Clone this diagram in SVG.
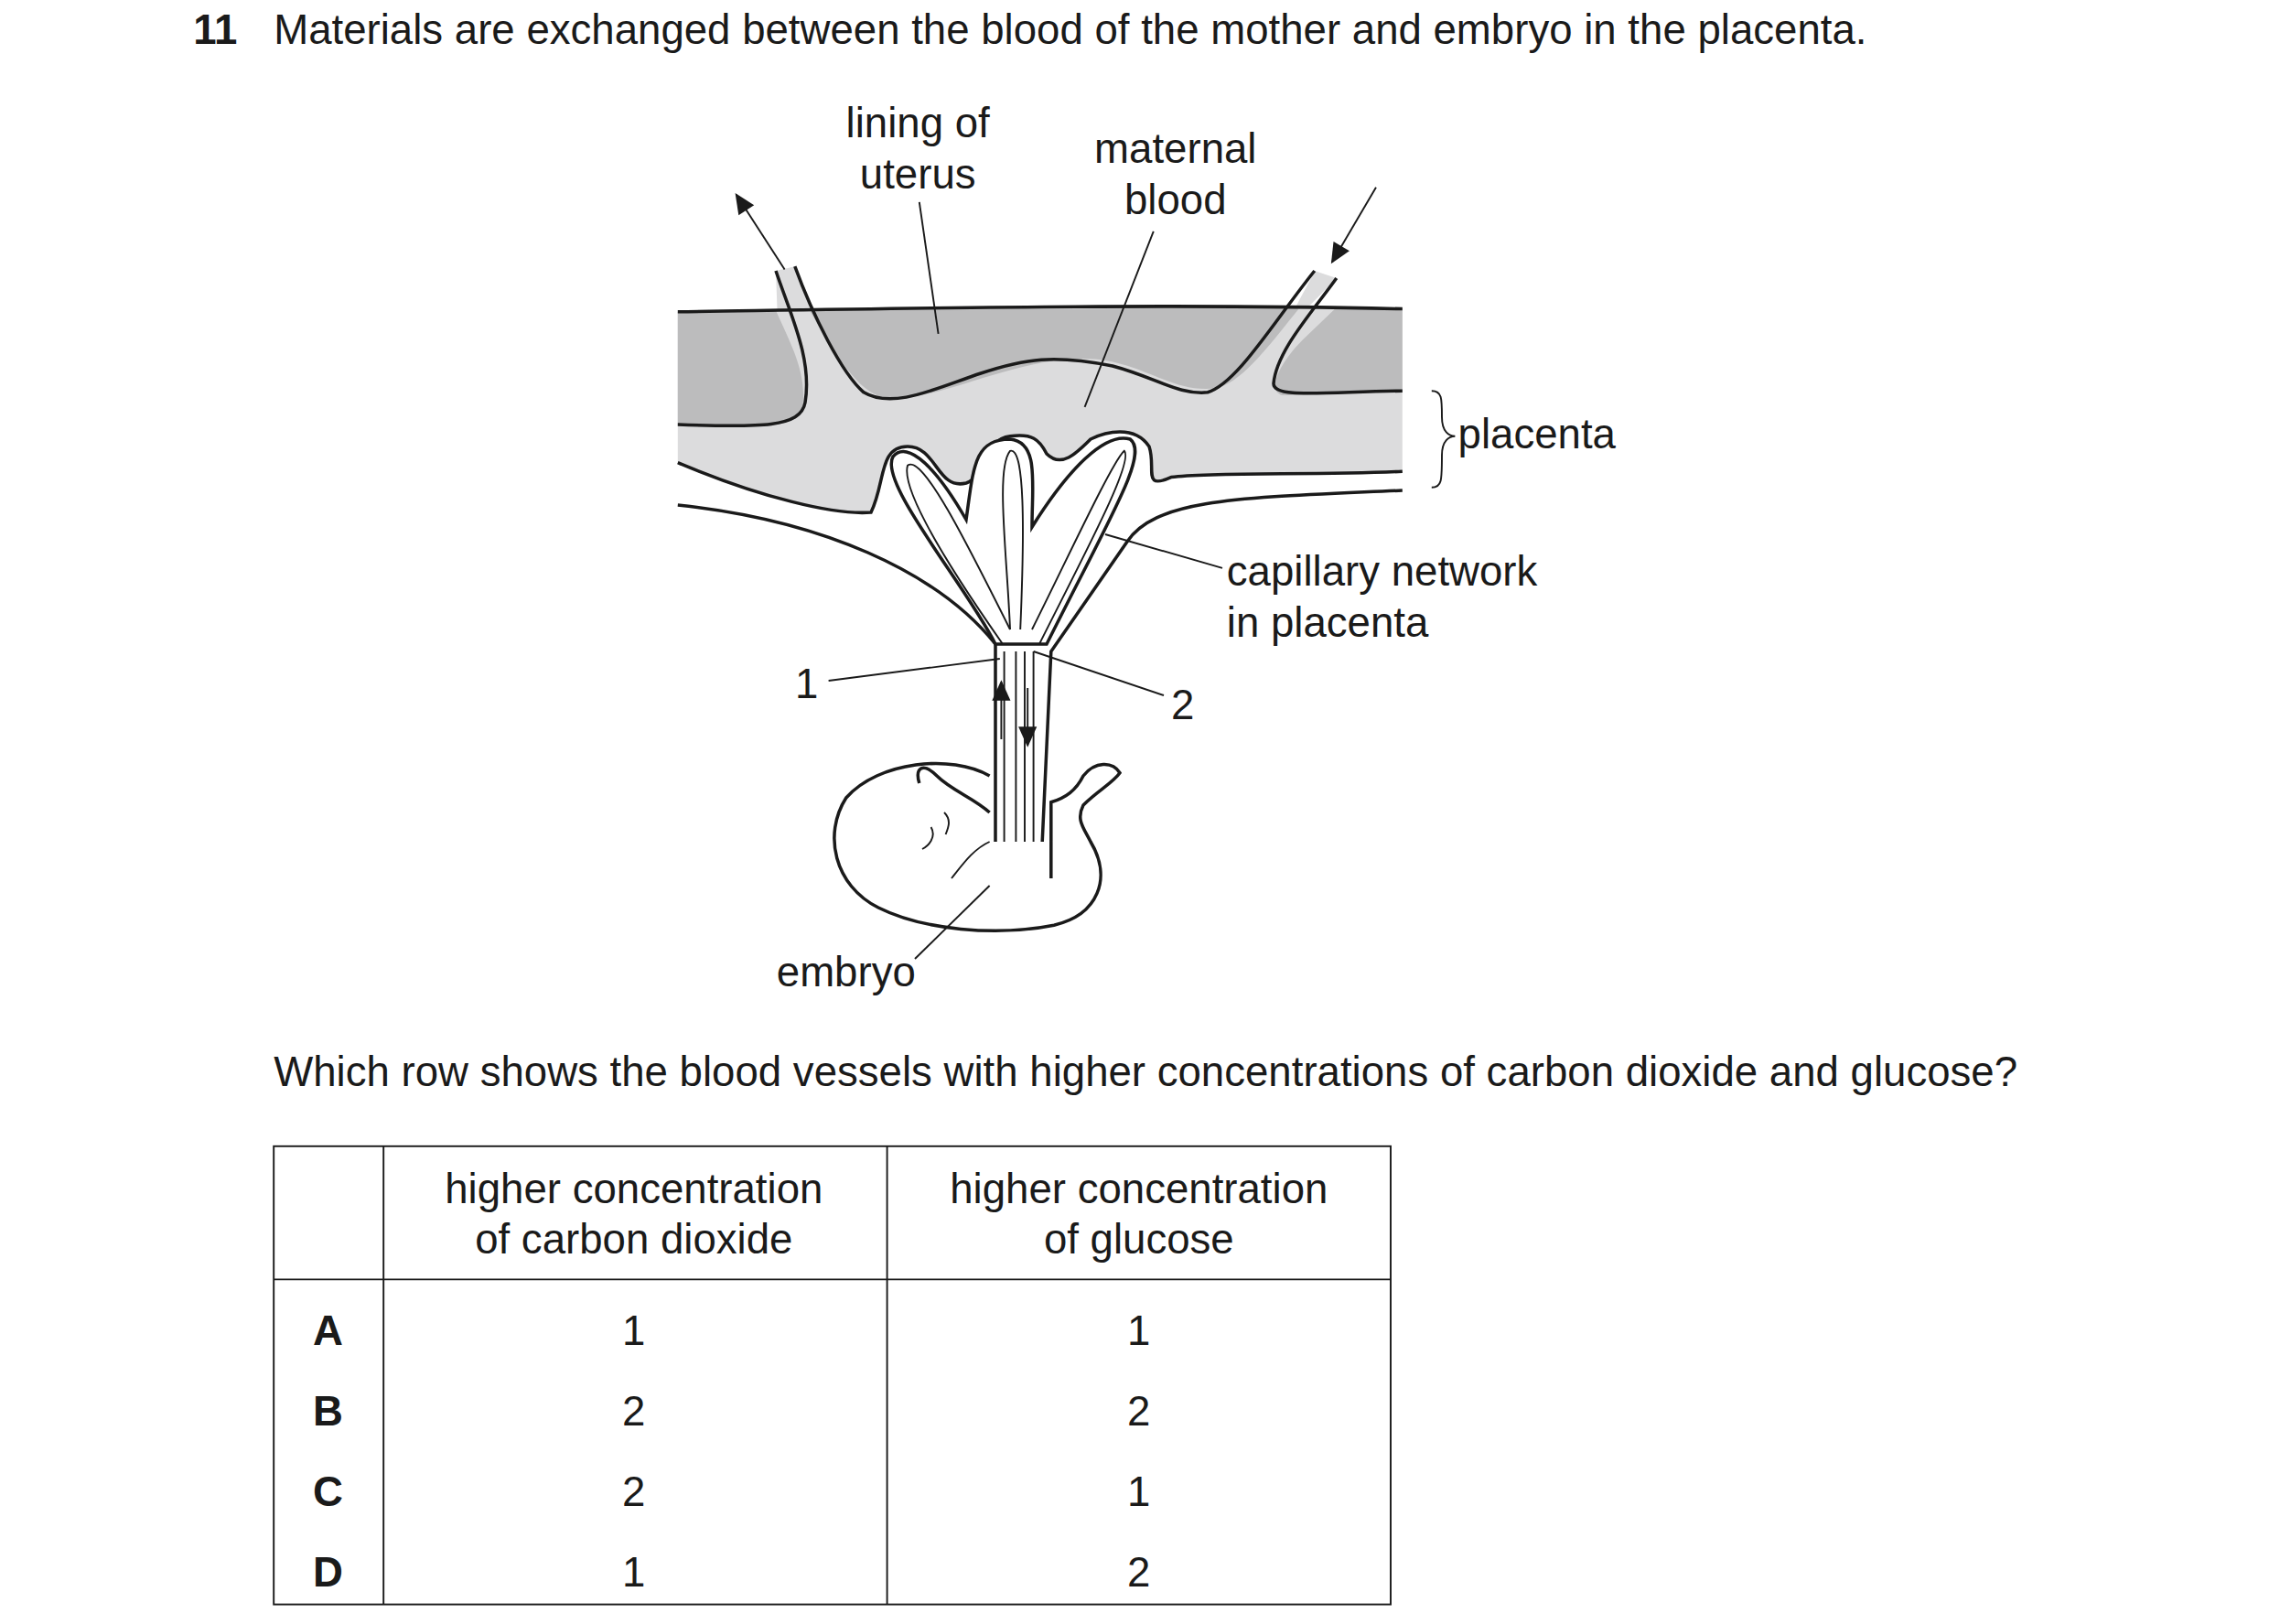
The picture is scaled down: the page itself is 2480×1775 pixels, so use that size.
<svg xmlns="http://www.w3.org/2000/svg" width="2480" height="1775" viewBox="0 0 2480 1775">
<style>
text{font-family:"Liberation Sans",Arial,sans-serif;font-size:28.5px;fill:#1a1a1a}
.b{font-weight:bold}
.m{text-anchor:middle}
.l{fill:none;stroke:#1a1a1a;stroke-width:2.2}
.t{fill:none;stroke:#1a1a1a;stroke-width:1.2}
</style>
<defs><marker id="ah" viewBox="0 0 10 10" refX="9" refY="5" markerUnits="userSpaceOnUse" markerWidth="22" markerHeight="14" orient="auto"><path d="M0,0.5 L10,5 L0,9.5 z" fill="#1a1a1a"/></marker></defs>
<rect width="2480" height="1775" fill="#fff"/>
<g transform="scale(1.6)">
<g id="title"><text x="132" y="30" class="b">11</text><text x="187" y="30">Materials are exchanged between the blood of the mother and embryo in the placenta.</text></g>
<g id="placenta-diagram">
<path d="M463,213 C600,211 800,207 958,211 L958,323 C900,325 820,322 800,326 C780,335 790,320 785,305 C775,290 755,295 745,300 C735,310 725,320 715,310 C710,300 705,296 690,298 C672,300 675,325 660,330 C640,335 640,305 620,305 C600,305 605,330 595,350 C570,352 520,340 463,316 Z" fill="#dcdcdd"/>
<path d="M463,213 L530,212 C540,235 552,255 548,280 C545,292 520,292 463,290 Z" fill="#bcbcbd"/>
<path d="M553,212 L888,210 C870,232 850,260 832,265 C800,270 780,245 740,245 C690,245 640,275 605,272 C585,268 570,240 553,212 Z" fill="#bcbcbd"/>
<path d="M912,211 L958,211 L958,267 C920,268 890,270 876,270 C866,268 872,250 890,232 Z" fill="#bcbcbd"/>
<path d="M530,185 L543,182 C546,192 550,202 555,213 L531,213 Z" fill="#dcdcdd"/>
<path d="M898,185 L913,190 C905,198 898,206 890,213 L885,210 C889,202 894,194 898,185 Z" fill="#dcdcdd"/>
<path class="l" d="M463,213 C600,211 800,207 958,211"/>
<path class="l" d="M530,185 C540,215 555,245 550,275 C547,292 520,292 463,290"/>
<path class="l" d="M543,182 C555,215 575,255 590,268 C610,280 640,265 670,255 C700,245 720,242 760,250 C790,258 805,270 825,268 C845,262 870,220 898,185"/>
<path class="l" d="M913,190 C895,215 872,240 870,262 C870,272 900,268 958,267"/>
<path class="l" d="M463,316 C520,340 570,352 595,350 C605,330 600,305 620,305 C640,305 640,335 660,330 C675,325 672,300 690,298 C705,296 710,300 715,310 C725,320 735,310 745,300 C755,295 775,290 785,305 C790,320 780,335 800,326 C830,322 900,325 958,322"/>
<path class="l" d="M463,345 C560,355 640,390 680,440 L680,575"/>
<path class="l" d="M958,335 C850,340 790,340 770,370 L718,445 L712,575"/>
<path d="M680,440 C660,400 600,330 610,312 C620,300 640,320 660,355 C665,320 665,300 690,300 C710,302 705,330 705,360 C730,320 755,295 772,300 C785,310 760,350 715,440 Z" fill="#fff" stroke="#1a1a1a" stroke-width="2.2"/>
<path class="t" d="M685,440 C650,390 615,335 620,318 C630,310 660,370 690,430"/>
<path class="t" d="M690,430 C688,380 680,320 690,308 C700,305 700,360 697,430"/>
<path class="t" d="M705,430 C730,380 760,315 768,308 C775,315 740,380 710,440"/>
<path class="t" d="M686,445 L686,575 M694,445 L694,575 M700,445 L700,575 M706,445 L706,575"/>
<line class="t" x1="684" y1="505" x2="684" y2="466" marker-end="url(#ah)"/>
<line class="t" x1="702" y1="470" x2="702" y2="509" marker-end="url(#ah)"/>
<path class="l" d="M676,530 C650,515 600,520 578,545 C562,570 570,605 600,620 C630,635 680,640 720,632 C750,625 760,600 745,575 C740,565 735,560 740,550 C750,540 760,535 765,528 C760,520 748,520 740,530 C735,540 728,545 718,548 L718,600 M676,555 C665,545 650,540 640,530 C630,520 625,525 628,535"/>
<path class="t" d="M636,565 C640,572 634,578 630,580 M645,555 C650,560 648,565 646,570 M650,600 C658,590 665,580 676,575"/>
<line class="t" x1="536" y1="184" x2="503" y2="133" marker-end="url(#ah)"/>
<line class="t" x1="940" y1="128" x2="910" y2="179" marker-end="url(#ah)"/>
<path class="t" d="M978,267 C985,267 985,272 985,285 C985,295 990,298 994,298 C990,298 985,301 985,311 C985,328 985,333 978,333"/>
<line class="t" x1="628" y1="138" x2="641" y2="228"/>
<line class="t" x1="788" y1="158" x2="741" y2="278"/>
<line class="t" x1="835" y1="388" x2="755" y2="365"/>
<line class="t" x1="566" y1="465" x2="683" y2="450"/>
<line class="t" x1="795" y1="475" x2="706" y2="445"/>
<line class="t" x1="625" y1="655" x2="676" y2="605"/>
<text x="627" y="94" class="m">lining of</text><text x="627" y="129" class="m">uterus</text>
<text x="803" y="111" class="m">maternal</text><text x="803" y="146" class="m">blood</text>
<text x="996" y="306">placenta</text>
<text x="838" y="400">capillary network</text><text x="838" y="435">in placenta</text>
<text x="551" y="477" class="m">1</text><text x="808" y="491" class="m">2</text>
<text x="578" y="674" class="m">embryo</text>
</g>
<g id="question"><text x="187" y="742">Which row shows the blood vessels with higher concentrations of carbon dioxide and glucose?</text></g>
<g id="table">
<rect x="187" y="783" width="763" height="313" class="t" stroke-width="1.5"/>
<line class="t" x1="262" y1="783" x2="262" y2="1096"/><line class="t" x1="606" y1="783" x2="606" y2="1096"/><line class="t" x1="187" y1="874" x2="950" y2="874"/>
<text x="433" y="822" class="m">higher concentration</text><text x="433" y="856" class="m">of carbon dioxide</text>
<text x="778" y="822" class="m">higher concentration</text><text x="778" y="856" class="m">of glucose</text>
<text x="224" y="919" class="m b">A</text><text x="224" y="974" class="m b">B</text><text x="224" y="1029" class="m b">C</text><text x="224" y="1084" class="m b">D</text>
<text x="433" y="919" class="m">1</text><text x="433" y="974" class="m">2</text><text x="433" y="1029" class="m">2</text><text x="433" y="1084" class="m">1</text>
<text x="778" y="919" class="m">1</text><text x="778" y="974" class="m">2</text><text x="778" y="1029" class="m">1</text><text x="778" y="1084" class="m">2</text>
</g>
</g>
</svg>
